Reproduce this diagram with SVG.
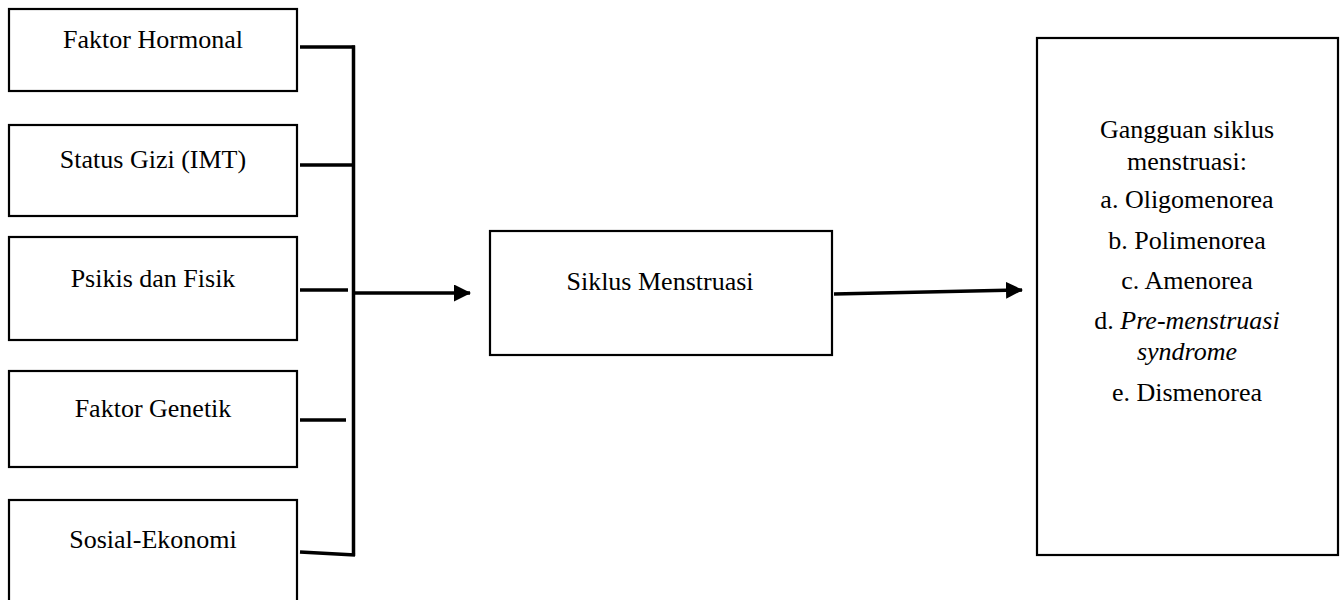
<svg xmlns="http://www.w3.org/2000/svg" width="1343" height="600" viewBox="0 0 1343 600">
  <defs>
    <style>
      .box { fill: #ffffff; stroke: #000000; stroke-width: 2.2; }
      .lbl { font-family: "Liberation Serif", "Times New Roman", serif; font-size: 26px; fill: #000000; text-anchor: middle; }
      .it { font-style: italic; }
      .wire { fill: none; stroke: #000000; stroke-width: 3.5; stroke-linecap: butt; }
    </style>
    <marker id="head" viewBox="0 0 17 17" refX="16" refY="8.5" markerWidth="17" markerHeight="17" markerUnits="userSpaceOnUse" orient="auto">
      <path d="M0,0 L17,8.5 L0,17 Z" fill="#000000"/>
    </marker>
  </defs>
  <rect width="1343" height="600" fill="#ffffff"/>

  <!-- factor boxes -->
  <g id="faktor-hormonal">
    <rect class="box" x="9" y="9" width="288" height="82"/>
    <text class="lbl" x="153" y="48">Faktor Hormonal</text>
  </g>
  <g id="status-gizi">
    <rect class="box" x="9" y="125" width="288" height="91"/>
    <text class="lbl" x="153" y="168">Status Gizi (IMT)</text>
  </g>
  <g id="psikis-fisik">
    <rect class="box" x="9" y="237" width="288" height="103"/>
    <text class="lbl" x="153" y="287">Psikis dan Fisik</text>
  </g>
  <g id="faktor-genetik">
    <rect class="box" x="9" y="371" width="288" height="96"/>
    <text class="lbl" x="153" y="417">Faktor Genetik</text>
  </g>
  <g id="sosial-ekonomi">
    <rect class="box" x="9" y="500" width="288" height="104"/>
    <text class="lbl" x="153" y="548">Sosial-Ekonomi</text>
  </g>

  <!-- central box -->
  <g id="siklus-menstruasi">
    <rect class="box" x="490" y="231" width="342" height="124"/>
    <text class="lbl" x="660" y="290">Siklus Menstruasi</text>
  </g>

  <!-- outcome box -->
  <g id="gangguan">
    <rect class="box" x="1037" y="38" width="301" height="517"/>
    <text class="lbl" x="1187" y="138">Gangguan siklus</text>
    <text class="lbl" x="1187" y="170">menstruasi:</text>
    <text class="lbl" x="1187" y="208">a. Oligomenorea</text>
    <text class="lbl" x="1187" y="249">b. Polimenorea</text>
    <text class="lbl" x="1187" y="289">c. Amenorea</text>
    <text class="lbl" x="1187" y="329">d. <tspan class="it">Pre-menstruasi</tspan></text>
    <text class="lbl it" x="1187" y="360">syndrome</text>
    <text class="lbl" x="1187" y="401">e. Dismenorea</text>
  </g>

  <!-- connectors -->
  <g id="connectors">
    <line class="wire" x1="300" y1="47" x2="355" y2="47"/>
    <line class="wire" x1="300" y1="165" x2="355" y2="165"/>
    <line class="wire" x1="300" y1="290" x2="348" y2="290"/>
    <line class="wire" x1="300" y1="420" x2="346" y2="420"/>
    <line class="wire" x1="300" y1="552" x2="355" y2="555"/>
    <line class="wire" x1="353.5" y1="45.5" x2="353.5" y2="556"/>
    <line class="wire" x1="353.5" y1="293" x2="470" y2="293" marker-end="url(#head)"/>
    <line class="wire" x1="834" y1="294" x2="1022" y2="290" marker-end="url(#head)"/>
  </g>
</svg>
